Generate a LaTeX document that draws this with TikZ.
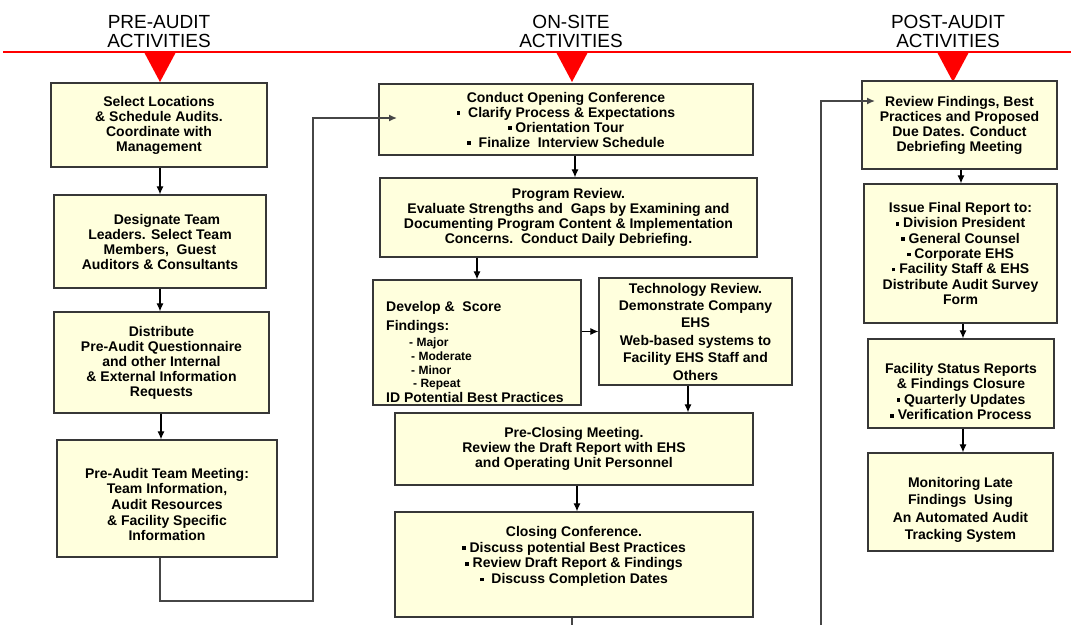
\documentclass[tikz,border=0pt]{standalone}
\usepackage{fontspec}
\setmainfont{Liberation Sans}
\usetikzlibrary{arrows.meta,calc}
\definecolor{boxfill}{RGB}{255,255,221}
\definecolor{boxline}{RGB}{55,55,55}
\definecolor{gline}{RGB}{70,70,70}
\definecolor{hred}{RGB}{255,0,0}
\newcommand\bsq{\rule[2.4pt]{3.6pt}{3.6pt}}
\begin{document}
\begin{tikzpicture}[x=1pt,y=-1pt,
 box/.style={draw=boxline,fill=boxfill,line width=1.3pt,inner sep=0pt,align=center,font=\bfseries\fontsize{14}{15}\selectfont},
 txt/.style={inner sep=0pt,align=center,font=\bfseries\fontsize{14}{15}\selectfont},
 ltxt/.style={inner sep=0pt,anchor=base west,font=\bfseries\fontsize{14}{15}\selectfont},
 stxt/.style={inner sep=0pt,anchor=base west,font=\bfseries\fontsize{12}{13}\selectfont},
 arr/.style={line width=1.1pt,-{Latex[length=8pt,width=7pt]}},
 gl/.style={draw=gline,line width=1.4pt},
 hdr/.style={font=\fontsize{19}{20}\selectfont,anchor=base,inner sep=0pt}]
\useasboundingbox (0,0) rectangle (1071,625);
\fill[white] (0,0) rectangle (1071,625);

% header
\draw[hred,line width=1.5pt] (3,52) -- (1071,52);
\node[hdr] (h1a) at (159,28) {PRE-AUDIT};
\node[hdr] (h1b) at (159,47) {ACTIVITIES};
\node[hdr] (h2a) at (571,28) {ON-SITE};
\node[hdr] (h2b) at (571,47) {ACTIVITIES};
\node[hdr] (h3a) at (948,28) {POST-AUDIT};
\node[hdr] (h3b) at (948,47) {ACTIVITIES};
\fill[hred] (144,52) -- (176,52) -- (160,82) -- cycle;
\fill[hred] (556,52) -- (588,52) -- (572,82) -- cycle;
\fill[hred] (937,52) -- (969,52) -- (953,82) -- cycle;

% left column
\node[box,minimum width=216pt,minimum height=84pt] (b1) at (159,125)
 {Select Locations\\ \& Schedule Audits.\\ Coordinate with\\ Management};
\node[box,minimum width=212pt,minimum height=93pt] (b2) at (160,241.5)
 {\hspace*{14pt}Designate Team\\ Leaders. Select Team\\ Members,\ \ Guest\\ Auditors \& Consultants};
\node[box,minimum width=215pt,minimum height=101pt] (b3) at (161.5,362.5)
 {Distribute\\ Pre-Audit Questionnaire\\ and other Internal\\ \& External Information\\ Requests};
\node[box,minimum width=220pt,minimum height=117pt] (b4) at (167,498.5) {};
\node[txt,font=\bfseries\fontsize{14}{15.6}\selectfont] (t4) at ($(b4.center)+(0,6)$)
 {Pre-Audit Team Meeting:\\ Team Information,\\ Audit Resources\\ \& Facility Specific\\ Information};

% middle column
\node[box,minimum width=374pt,minimum height=71pt] (b5) at (566,119.5)
 {Conduct Opening Conference\\ \bsq\ \ Clarify Process \& Expectations\\ \bsq\ Orientation Tour\\ \bsq\ \ Finalize\ \ Interview Schedule};
\node[box,minimum width=377pt,minimum height=79pt] (b6) at (568.5,217.5)
 {Program Review.\\ Evaluate Strengths and\ \ Gaps by Examining and\\ Documenting Program Content \& Implementation\\ Concerns.\ \ Conduct Daily Debriefing.};
\node[box,minimum width=208pt,minimum height=125pt] (b7) at (477,342.5) {};
\node[ltxt] (t7a) at (386,311) {Develop \&\ \ Score};
\node[ltxt] (t7b) at (386,330) {Findings:};
\node[stxt] (t7c) at (409,346) {- Major};
\node[stxt] (t7d) at (411,360) {- Moderate};
\node[stxt] (t7e) at (411,374) {- Minor};
\node[stxt] (t7f) at (413,387) {- Repeat};
\node[ltxt] (t7g) at (386,402) {ID Potential Best Practices};
\node[box,minimum width=193pt,minimum height=107pt,font=\bfseries\fontsize{14}{17.4}\selectfont] (b8) at (695.5,331.5)
 {Technology Review.\\ Demonstrate Company\\ EHS\\ Web-based systems to\\ Facility EHS Staff and\\ Others};
\node[box,minimum width=358pt,minimum height=72pt] (b9) at (574,449)
 {Pre-Closing Meeting.\\ Review the Draft Report with EHS\\ and Operating Unit Personnel};
\node[box,minimum width=358pt,minimum height=105pt] (b10) at (574,564.5) {};
\node[txt,font=\bfseries\fontsize{14}{15.6}\selectfont] (t10) at ($(b10.center)+(0,-8)$)
 {Closing Conference.\\ \bsq\ Discuss potential Best Practices\\ \bsq\ Review Draft Report \& Findings\\ \bsq\ \ Discuss Completion Dates};

% right column
\node[box,minimum width=195pt,minimum height=88pt] (b11) at (959.5,125)
 {Review Findings, Best\\ Practices and Proposed\\ Due Dates. Conduct\\ Debriefing Meeting};
\node[box,minimum width=193pt,minimum height=139pt,font=\bfseries\fontsize{14}{15.3}\selectfont] (b12) at (960.5,253.5)
 {Issue Final Report to:\\ \bsq\ Division President\\ \bsq\ General Counsel\\ \bsq\ Corporate EHS\\ \bsq\ Facility Staff \& EHS\\ Distribute Audit Survey\\ Form};
\node[box,minimum width=186pt,minimum height=89pt] (b13) at (961,383.5) {};
\node[txt,font=\bfseries\fontsize{14}{15.6}\selectfont] (t13) at ($(b13.center)+(0,8)$)
 {Facility Status Reports\\ \& Findings Closure\\ \bsq\ Quarterly Updates\\ \bsq\ Verification Process};
\node[box,minimum width=185pt,minimum height=98pt] (b14) at (960.5,502) {};
\node[txt,font=\bfseries\fontsize{14}{17.3}\selectfont] (t14) at ($(b14.center)+(0,8)$)
 {Monitoring Late\\ Findings\ \ Using\\ An Automated Audit\\ Tracking System};

% helper coordinates
\coordinate (xa) at (160,0);
\coordinate (xb) at (161,0);
\coordinate (c1) at (160,601);
\coordinate (c2) at (313,601);
\coordinate (c3) at (313,118);
\coordinate (c4) at (397,118);
\coordinate (xm1) at (575,0);
\coordinate (xm2) at (688,0);
\coordinate (xm3) at (577,0);
\coordinate (c8) at (572,625);
\coordinate (c5) at (821,625);
\coordinate (c6) at (821,101);
\coordinate (c7) at (875,101);
\coordinate (xr1) at (961,0);
\coordinate (xr2) at (963,0);

% connectors
\draw[arr] (b1.south -| xa) -- (b2.north -| xa);
\draw[arr] (b2.south -| xa) -- (b3.north -| xa);
\draw[arr] (b3.south -| xb) -- (b4.north -| xb);
\draw[gl,-{Latex[length=8pt,width=7pt]}] (b4.south -| c1) -- (c1) -- (c2) -- (c3) -- (c4);
\draw[arr] (b5.south -| xm1) -- (b6.north -| xm1);
\draw[arr] (b6.south -| b7.north) -- (b7.north);
\draw[arr] (b7.east |- b8.west) -- (b8.west);
\draw[arr] (b8.south -| xm2) -- (b9.north -| xm2);
\draw[arr] (b9.south -| xm3) -- (b10.north -| xm3);
\draw[gl] (b10.south -| c8) -- (c8);
\draw[gl,-{Latex[length=8pt,width=7pt]}] (c5) -- (c6) -- (c7);
\draw[arr] (b11.south -| xr1) -- (b12.north -| xr1);
\draw[arr] (b12.south -| xr2) -- (b13.north -| xr2);
\draw[arr] (b13.south -| xr2) -- (b14.north -| xr2);
\end{tikzpicture}
\end{document}
